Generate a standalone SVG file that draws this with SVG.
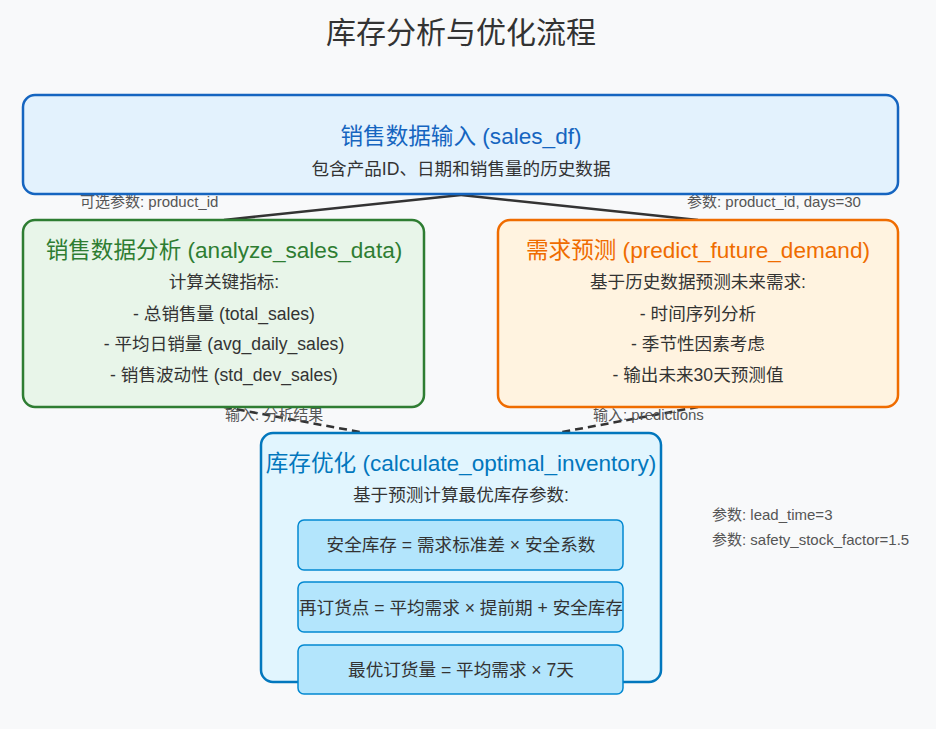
<svg xmlns="http://www.w3.org/2000/svg" width="936" height="729" viewBox="0 0 936 729">
<style>
text{font-family:"Liberation Sans","Noto Sans CJK SC",sans-serif;text-anchor:middle;}
.title{font-size:30px;fill:#333;}
.ntitle{font-size:22.6px;}
.body{font-size:17.6px;fill:#333;}
.lbl{font-size:15px;fill:#555;text-anchor:start;}
.solid{stroke:#333;stroke-width:2.5;fill:none;}
.dash{stroke:#333;stroke-width:2.5;fill:none;stroke-dasharray:8,5;}
.sub{fill:#b3e5fc;stroke:#0288d1;stroke-width:1.5;}
</style>
<rect width="936" height="729" fill="#f8f9fa"/>
<text class="title" x="461" y="43">库存分析与优化流程</text>
<g id="connectors">
<line class="solid" x1="461" y1="195" x2="224" y2="220"/>
<line class="solid" x1="461" y1="195" x2="698" y2="220"/>
<line class="dash" x1="224" y1="407" x2="360" y2="432"/>
<line class="dash" x1="698" y1="407" x2="562" y2="432"/>
<text class="lbl" x="80" y="207">可选参数: product_id</text>
<text class="lbl" x="687" y="207">参数: product_id, days=30</text>
<text class="lbl" x="225" y="420">输入: 分析结果</text>
<text class="lbl" x="593" y="420">输入: predictions</text>
</g>
<g id="node-input">
<rect x="23" y="95" width="875" height="99" rx="12" fill="#e3f2fd" stroke="#1565c0" stroke-width="2.5"/>
<text class="ntitle" x="461" y="144" fill="#1565c0">销售数据输入 (sales_df)</text>
<text class="body" x="461" y="175">包含产品ID、日期和销售量的历史数据</text>
</g>
<g id="node-analyze">
<rect x="23" y="220" width="401" height="187" rx="12" fill="#e8f5e9" stroke="#2e7d32" stroke-width="2.5"/>
<text class="ntitle" x="224" y="258" fill="#2e7d32">销售数据分析 (analyze_sales_data)</text>
<text class="body" x="224" y="288">计算关键指标:</text>
<text class="body" x="224" y="320">- 总销售量 (total_sales)</text>
<text class="body" x="224" y="350">- 平均日销量 (avg_daily_sales)</text>
<text class="body" x="224" y="381">- 销售波动性 (std_dev_sales)</text>
</g>
<g id="node-predict">
<rect x="498" y="220" width="400" height="187" rx="12" fill="#fff3e0" stroke="#ef6c00" stroke-width="2.5"/>
<text class="ntitle" x="698" y="258" fill="#ef6c00">需求预测 (predict_future_demand)</text>
<text class="body" x="698" y="288">基于历史数据预测未来需求:</text>
<text class="body" x="698" y="320">- 时间序列分析</text>
<text class="body" x="698" y="350">- 季节性因素考虑</text>
<text class="body" x="698" y="381">- 输出未来30天预测值</text>
</g>
<g id="node-optimize">
<rect x="261" y="433" width="400" height="249" rx="12" fill="#e1f5fe" stroke="#0277bd" stroke-width="2.5"/>
<text class="ntitle" x="461" y="471" fill="#0277bd">库存优化 (calculate_optimal_inventory)</text>
<text class="body" x="461" y="501">基于预测计算最优库存参数:</text>
<rect class="sub" x="298" y="520" width="325" height="50" rx="6"/>
<text class="body" x="461" y="551">安全库存 = 需求标准差 × 安全系数</text>
<rect class="sub" x="298" y="582" width="325" height="50" rx="6"/>
<text class="body" x="461" y="614">再订货点 = 平均需求 × 提前期 + 安全库存</text>
<rect class="sub" x="298" y="645" width="325" height="49" rx="6"/>
<text class="body" x="461" y="676">最优订货量 = 平均需求 × 7天</text>
</g>
<g id="params">
<text class="lbl" x="712" y="520">参数: lead_time=3</text>
<text class="lbl" x="712" y="545">参数: safety_stock_factor=1.5</text>
</g>
</svg>
